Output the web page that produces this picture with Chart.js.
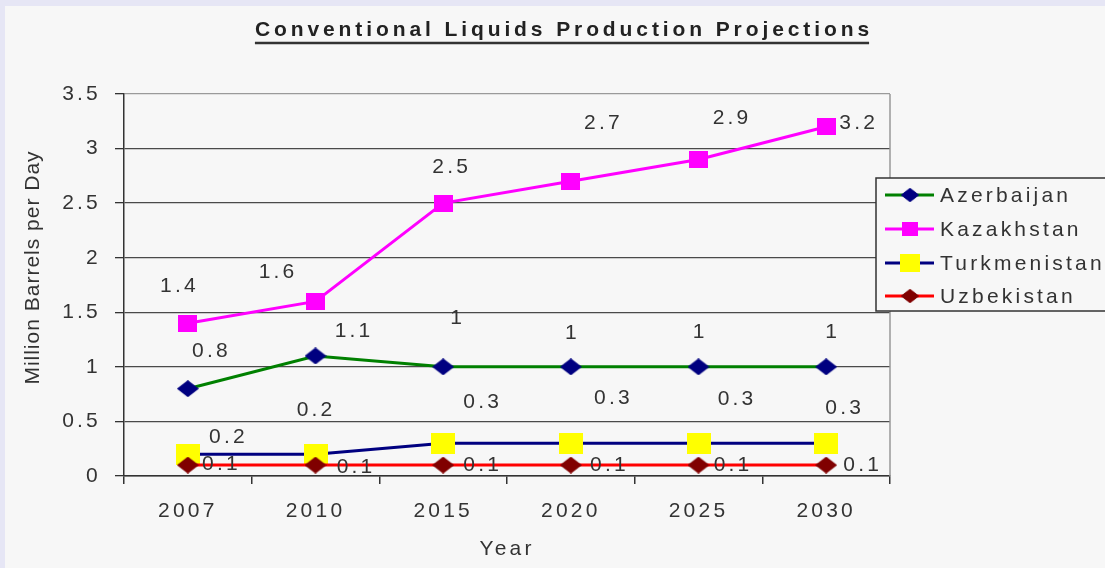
<!DOCTYPE html>
<html><head><meta charset="utf-8">
<script src="https://cdn.jsdelivr.net/npm/chart.js@4/dist/chart.umd.min.js"></script>
<style>html,body{margin:0;padding:0;background:#e6e6f5;overflow:hidden}canvas{display:block}</style>
</head><body><canvas id="c" width="1105" height="568"></canvas>
<script>
// ---- data ----
const years = ['2007', '2010', '2015', '2020', '2025', '2030'];
const azerbaijan = [0.8, 1.1, 1, 1, 1, 1];
const kazakhstan = [1.4, 1.6, 2.5, 2.7, 2.9, 3.2];
const turkmenistan = [0.2, 0.2, 0.3, 0.3, 0.3, 0.3];
const uzbekistan = [0.1, 0.1, 0.1, 0.1, 0.1, 0.1];
const yTickLabels = ['0', '0.5', '1', '1.5', '2', '2.5', '3', '3.5'];
const seriesNames = ['Azerbaijan', 'Kazakhstan', 'Turkmenistan', 'Uzbekistan'];
const titleText = 'Conventional Liquids Production Projections';
const yTitleText = 'Million Barrels per Day';
const xTitleText = 'Year';

// ---- styling ----
const FONT = "'Liberation Sans', Arial, sans-serif";
const SP = 3.2;
const TXT = '#333';
// data label offsets in px (layout only)
const labelOffsets = [
  [[22,-37],[37,-25],[13,-49],[0,-34],[0,-35],[5,-35]],
  [[-10,-37],[-39,-29],[7,-36],[31,-58],[32,-41],[31,-4]],
  [[39,-17],[-1,-44],[38,-41],[41,-45],[37,-44],[17,-35]],
  [[32,-1],[39,2],[38,0],[37,0],[33,0],[35,0]]
];

function marker(shape, w, h, color) {
  const c = document.createElement('canvas');
  c.width = w; c.height = h;
  const g = c.getContext('2d');
  g.fillStyle = color;
  if (shape === 'diamond') {
    g.beginPath(); g.moveTo(w/2, 0); g.lineTo(w, h/2); g.lineTo(w/2, h); g.lineTo(0, h/2); g.closePath(); g.fill();
  } else {
    g.fillRect(0, 0, w, h);
  }
  return c;
}
const mAz = marker('diamond', 22, 17, '#000080');
const mKz = marker('rect', 19, 17, '#ff00ff');
const mTk = marker('rect', 24, 21, '#ffff00');
const mUz = marker('diamond', 22, 17, '#800000');

const lineColors = ['#008000', '#ff00ff', '#000080', '#ff0000'];
const markers = [mAz, mKz, mTk, mUz];
const seriesValues = [azerbaijan, kazakhstan, turkmenistan, uzbekistan];
const orders = [2, 3, 1, 0];

const datasets = seriesNames.map((name, i) => ({
  label: name,
  data: seriesValues[i],
  borderColor: lineColors[i],
  backgroundColor: lineColors[i],
  borderWidth: 3,
  pointStyle: markers[i],
  pointRadius: 10,
  pointHoverRadius: 10,
  tension: 0,
  order: orders[i]
}));

const decor = {
  id: 'decor',
  beforeDraw(chart) {
    const ctx = chart.ctx;
    ctx.save();
    ctx.letterSpacing = '0px';
    ctx.fillStyle = '#e6e6f5';
    ctx.fillRect(0, 0, 1105, 568);
    ctx.fillStyle = '#f7f7f7';
    ctx.fillRect(5, 6, 1100, 562);
    ctx.restore();
    ctx.letterSpacing = SP + 'px';
  },
  beforeDatasetsDraw(chart) {
    const ctx = chart.ctx, a = chart.chartArea;
    ctx.save();
    ctx.strokeStyle = '#999';
    ctx.lineWidth = 1.5;
    ctx.beginPath();
    ctx.moveTo(a.right, a.top); ctx.lineTo(a.right, a.bottom);
    ctx.stroke();
    ctx.restore();
  },
  afterDatasetsDraw(chart) {
    const ctx = chart.ctx;
    ctx.save();
    ctx.letterSpacing = SP + 'px';
    ctx.font = '21px ' + FONT;
    ctx.fillStyle = TXT;
    ctx.textAlign = 'center';
    ctx.textBaseline = 'middle';
    chart.data.datasets.forEach((ds, i) => {
      const meta = chart.getDatasetMeta(i);
      meta.data.forEach((pt, j) => {
        const o = labelOffsets[i][j];
        ctx.fillText(String(ds.data[j]), pt.x + o[0] + SP/2, pt.y + o[1]);
      });
    });
    ctx.restore();
  },
  afterDraw(chart) {
    const ctx = chart.ctx;
    ctx.save();
    // title
    ctx.letterSpacing = '3.9px';
    ctx.font = 'bold 21px ' + FONT;
    ctx.fillStyle = '#222';
    ctx.textAlign = 'left';
    ctx.textBaseline = 'middle';
    const tw = ctx.measureText(titleText).width - 3.9;
    const tx = 562 - tw / 2;
    ctx.fillText(titleText, tx, 30);
    ctx.strokeStyle = '#333';
    ctx.lineWidth = 2.5;
    ctx.beginPath(); ctx.moveTo(tx, 43); ctx.lineTo(tx + tw, 43); ctx.stroke();
    // y title
    ctx.letterSpacing = '1px';
    ctx.font = '21px ' + FONT;
    ctx.fillStyle = TXT;
    ctx.translate(33, 268);
    ctx.rotate(-Math.PI / 2);
    ctx.textAlign = 'center';
    ctx.fillText(yTitleText, 0.5, 0);
    ctx.restore();
    // legend
    ctx.save();
    const lx = 876, ly = 178, lw = 260, lh = 133;
    ctx.fillStyle = '#f7f7f7';
    ctx.fillRect(lx, ly, lw, lh);
    ctx.strokeStyle = '#333';
    ctx.lineWidth = 1.5;
    ctx.strokeRect(lx, ly, lw, lh);
    const rows = [195, 229, 263, 296];
    ctx.letterSpacing = SP + 'px';
    ctx.font = '21px ' + FONT;
    ctx.textAlign = 'left';
    ctx.textBaseline = 'middle';
    chart.data.datasets.forEach((ds, i) => {
      const y = rows[i];
      ctx.strokeStyle = ds.borderColor;
      ctx.lineWidth = 3;
      ctx.beginPath(); ctx.moveTo(885, y); ctx.lineTo(934, y); ctx.stroke();
      const m = markers[i];
      const w = m.width * 0.85, h = m.height * 0.85;
      ctx.drawImage(m, 910 - w / 2, y - h / 2, w, h);
      ctx.fillStyle = TXT;
      ctx.fillText(ds.label, 940, y + 1);
    });
    ctx.restore();
  }
};

Chart.defaults.font.family = FONT;
Chart.defaults.font.size = 21;
Chart.defaults.color = TXT;

new Chart(document.getElementById('c'), {
  type: 'line',
  data: { labels: years, datasets },
  options: {
    responsive: false,
    animation: false,
    events: [],
    layout: { padding: { top: 94, right: 215, left: 0, bottom: 0 } },
    plugins: { legend: { display: false }, title: { display: false }, tooltip: { enabled: false } },
    scales: {
      x: {
        offset: true,
        afterFit(s) { s.height = 92; },
        grid: { display: true, drawOnChartArea: false, offset: true, tickLength: 8, tickColor: '#333', lineWidth: 1.5 },
        border: { display: true, color: '#333', width: 1.5 },
        ticks: { padding: 15, color: TXT, maxRotation: 0, autoSkip: false },
        title: { display: true, text: xTitleText, padding: { top: 0, bottom: 6 }, color: TXT, font: { size: 21 } }
      },
      y: {
        min: 0, max: 3.5,
        afterFit(s) { s.width = 124; },
        ticks: {
          stepSize: 0.5, padding: 14, color: TXT,
          callback: (v, i) => yTickLabels[i]
        },
        grid: {
          color: (c) => (c.tick && c.tick.value === 3.5) ? '#9a9a9a' : '#4a4a4a',
          tickColor: '#333', tickLength: 9, lineWidth: 1.3
        },
        border: { display: true, color: '#333', width: 1.5 }
      }
    }
  },
  plugins: [decor]
});
</script>
</body></html>
